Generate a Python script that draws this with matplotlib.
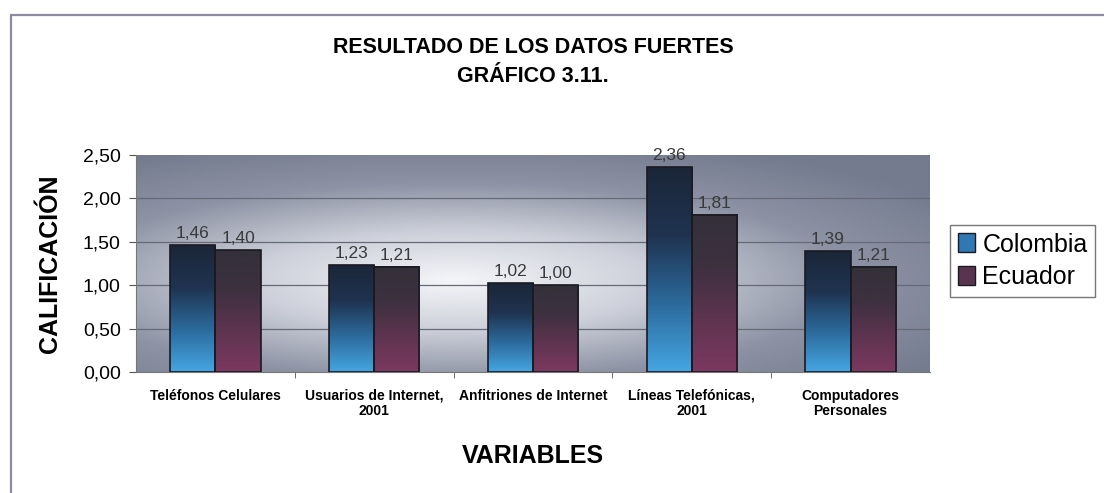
import numpy as np
import matplotlib.pyplot as plt
from matplotlib.colors import LinearSegmentedColormap
from matplotlib.patches import Rectangle

# datos del grafico
categorias = ["Teléfonos Celulares", "Usuarios de Internet,\n2001", "Anfitriones de Internet",
              "Líneas Telefónicas,\n2001", "Computadores\nPersonales"]
colombia = [1.46, 1.23, 1.02, 2.36, 1.39]
ecuador = [1.40, 1.21, 1.00, 1.81, 1.21]
series = ["Colombia", "Ecuador"]
yticks = [0.0, 0.5, 1.0, 1.5, 2.0, 2.5]

plt.rcParams['font.family'] = ['Liberation Sans', 'DejaVu Sans']

W, H = 1104, 493
fig = plt.figure(figsize=(W / 100, H / 100), dpi=100)
fig.patch.set_facecolor("white")

# marco exterior
fig.add_artist(Rectangle((11 / W, -0.05), 1.2, 1 - 15 / H + 0.05, transform=fig.transFigure,
                         fill=False, edgecolor="#8a8aa0", linewidth=1.6))

ax = fig.add_axes([136 / W, 1 - 372 / H, (930 - 136) / W, (372 - 155) / H])
x = np.arange(len(categorias))
w = 0.285
n = len(categorias)

# fondo degradado
gx, gy = np.meshgrid(np.linspace(0, 1, 300), np.linspace(0, 1, 150))
r = np.sqrt(((gx - 0.4) / 0.75) ** 2 + ((gy - 0.42) / 0.68) ** 2)
bg_cmap = LinearSegmentedColormap.from_list("bg", ["#f4f5f8", "#cdd0da", "#8d93a4", "#747b8e"])
ax.imshow(np.clip(r, 0, 1), extent=(-0.5, n - 0.5, 0, 2.5), origin="lower",
          cmap=bg_cmap, aspect="auto", zorder=0, interpolation="bilinear")

for yv in yticks[1:-1]:
    ax.axhline(yv, color="#656a76", linewidth=0.9, zorder=1)

col_cmap = LinearSegmentedColormap.from_list("col", ["#45a6e2", "#2c6a9c", "#1f3350", "#1b2638"])
ecu_cmap = LinearSegmentedColormap.from_list("ecu", ["#7c3860", "#5e3450", "#3e3040", "#33303a"])

grad = np.linspace(0, 1, 256).reshape(-1, 1)
for vals, off, cmap in [(colombia, -w / 2, col_cmap), (ecuador, w / 2, ecu_cmap)]:
    bars = ax.bar(x + off, vals, w, color="none", edgecolor="#1a1a22", linewidth=1.2, zorder=3)
    for b, v in zip(bars, vals):
        ax.imshow(grad, extent=(b.get_x(), b.get_x() + b.get_width(), 0, v), origin="lower",
                  cmap=cmap, aspect="auto", zorder=2)
        ax.text(b.get_x() + b.get_width() / 2, v + 0.05, f"{v:.2f}".replace(".", ","),
                ha="center", va="bottom", fontsize=12.5, color="#3a3a3a", zorder=4)

ax.set_xlim(-0.5, n - 0.5)
ax.set_ylim(0, 2.5)
ax.set_yticks(yticks)
ax.set_yticklabels([f"{t:.2f}".replace(".", ",") for t in yticks], fontsize=14)
ax.set_xticks(x)
ax.set_xticklabels(categorias, fontsize=10, fontweight="bold", linespacing=1.15)
ax.set_xticks(np.arange(0.5, n - 0.5, 1), minor=True)
ax.tick_params(axis="x", which="major", length=0, pad=12)
ax.tick_params(axis="x", which="minor", length=4, color="#555555")
ax.tick_params(axis="y", length=5, color="#555555", pad=6)
for s in ["top", "right"]:
    ax.spines[s].set_visible(False)
for s in ["left", "bottom"]:
    ax.spines[s].set_color("#777777")

ax.set_ylabel("CALIFICACIÓN", fontsize=18, fontweight="bold")
ax.yaxis.set_label_coords(-0.093, 0.5)
ax.set_xlabel("VARIABLES", fontsize=18, fontweight="bold", va="top")
ax.xaxis.set_label_coords(0.5, -0.33)

fig.text(533 / W, 1 - 47.5 / H, "RESULTADO DE LOS DATOS FUERTES", ha="center", va="center",
         fontsize=15.5, fontweight="bold")
fig.text(533 / W, 1 - 76 / H, "GRÁFICO 3.11.", ha="center", va="center",
         fontsize=15.5, fontweight="bold")

handles = [Rectangle((0, 0), 1, 1, facecolor="#2f78b4", edgecolor="#1a1a22"),
           Rectangle((0, 0), 1, 1, facecolor="#5a3350", edgecolor="#1a1a22")]
leg = fig.legend(handles, series, loc="upper left", bbox_to_anchor=(950 / W, 1 - 225 / H),
                 fontsize=18, frameon=True, fancybox=False, handlelength=0.7, handleheight=0.8,
                 handletextpad=0.3, borderpad=0.3, labelspacing=0.35, borderaxespad=0)
leg.get_frame().set_edgecolor("#555555")
leg.get_frame().set_linewidth(1.0)

fig.savefig("out.png", dpi=100)
